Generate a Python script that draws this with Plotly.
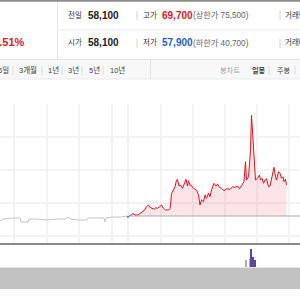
import plotly.graph_objects as go

# ---------------- data ----------------
prev_close = 58100
high_price = 69700
low_price = 57900
upper_limit = 75500
lower_limit = 40700
open_price = 58100
change_pct = "16.51%"

# previous-period (gray) line
gray_t = [0, 3, 13, 20, 21, 28, 29, 37, 47, 57, 65, 68, 71, 77, 87, 88, 100, 104, 105, 106, 112, 120, 127]
gray_p = [57520, 57750, 57870, 57870, 57410, 57410, 57750, 57750, 57640, 57750, 57750, 57980, 57750,
          57640, 57640, 57870, 57870, 57870, 57410, 57870, 57980, 57980, 58100]

# short blue dip below previous close
blue_t = [127, 128, 129]
blue_p = [58100, 57900, 58100]

# main (red) price line
red_t = [129, 131.5, 133, 135, 138, 141.5, 144, 146.5, 148.5, 150, 151.5, 154, 156, 157.5, 159.5,
         161.5, 163.5, 165.5, 168.5, 170, 171, 171.5, 173.5, 175, 176.5, 177.5, 179, 180.5, 182.5,
         184.5, 186, 187.5, 188.5, 190, 191.5, 193.5, 196.5, 198.5, 200, 201.5, 203.5, 205, 206.5,
         208.5, 210, 211.5, 214, 216, 217.5, 219.5, 221.5, 224, 226.5, 230, 232.5, 235, 237.5,
         239.5, 241.5, 244, 245.5, 246.5, 248.5, 249.5, 250.5, 251.5, 252.5, 253.5, 254.5, 255.5,
         257.5, 259.5, 260.5, 262, 263.5, 265, 266.5, 268.5, 270, 271.5, 274, 275.5, 276.5, 278.5,
         280, 281.5, 283, 284, 285.5, 286.5]
red_p = [58100, 58220, 58410, 58220, 58220, 58490, 58710, 59170, 59370, 59100, 58980, 58870, 59060,
         58980, 59170, 59370, 58980, 58790, 58790, 58980, 59940, 60710, 61090, 61470, 62240, 62320,
         61550, 61670, 61290, 61860, 62320, 61550, 62160, 61670, 61600, 61290, 61090, 60520, 59370,
         59940, 59750, 60520, 60140, 60710, 60320, 61090, 61860, 61550, 61780, 61400, 61290, 61010,
         61240, 61170, 61470, 61400, 61550, 61240, 61550, 62050, 64350, 62240, 62620, 64540, 65690,
         69700, 67610, 66650, 63390, 62240, 62440, 62820, 62240, 62440, 61860, 62240, 62390, 61470,
         61550, 62240, 63700, 62620, 62240, 63200, 63010, 62440, 62620, 62050, 62320, 61670]
assert len(red_t) == len(red_p)

# volume spike
vol_t = [246, 250, 251.3, 253, 255]
vol_v = [40, 45, 100, 55, 40]
vol_dark = [False, False, True, True, True]

# grid
grid_t = [14, 47, 79, 112, 128, 161, 193, 225, 257, 289]
grid_p = [70980, 67170, 63370, 59560, 55750]

# header labels
row_labels = [("전일", "시가"), ("고가", "저가")]
tab_labels = ["3개월", "1년", "3년", "5년", "10년"]
right_tabs = ["봉차트", "일봉", "주봉"]

FONT = "Liberation Sans, Noto Sans CJK KR, sans-serif"
W = H = 300


def py(px):
    return 1 - px / H


def px_x(px):
    return px / W


fig = go.Figure()

# price traces
fig.add_trace(go.Scatter(x=gray_t, y=gray_p, mode="lines",
                         line=dict(color="#c6c6c6", width=1), hoverinfo="skip"))
fig.add_trace(go.Scatter(x=red_t, y=[prev_close] * len(red_t), mode="lines",
                         line=dict(color="rgba(0,0,0,0)", width=0), hoverinfo="skip"))
fig.add_trace(go.Scatter(x=red_t, y=red_p, mode="lines", fill="tonexty",
                         fillcolor="rgba(240,50,65,0.13)",
                         line=dict(color="#e3121e", width=1), hoverinfo="skip"))
fig.add_trace(go.Scatter(x=blue_t, y=blue_p, mode="lines",
                         line=dict(color="#2a6fd6", width=1), hoverinfo="skip"))

# volume
fig.add_trace(go.Bar(x=vol_t, y=vol_v, width=1.3, xaxis="x2", yaxis="y2",
                     marker=dict(color=["#5d43a3" if d else "#b4a6dc" for d in vol_dark],
                                 line=dict(width=0)),
                     hoverinfo="skip"))

shapes = []


def hline(y, x0, x1, color, width=1):
    shapes.append(dict(type="line", xref="paper", yref="paper", x0=px_x(x0), x1=px_x(x1),
                       y0=py(y), y1=py(y), line=dict(color=color, width=width)))


def vline(x, y0, y1, color, width=1):
    shapes.append(dict(type="line", xref="paper", yref="paper", x0=px_x(x), x1=px_x(x),
                       y0=py(y0), y1=py(y1), line=dict(color=color, width=width)))


# header frame
hline(0.8, 0, 300, "#8c8c8c", 2)
vline(57.5, 2, 59, "#e6e6e6")
hline(30, 57, 300, "#ececec")
# tab bar
shapes.append(dict(type="rect", xref="paper", yref="paper", x0=0, x1=1, y0=py(79), y1=py(59.5),
                   fillcolor="#f8f8f8", line=dict(width=0), layer="below"))
hline(59.5, 0, 300, "#e2e2e2")
hline(79, 0, 300, "#ebebeb")
vline(150.5, 59.5, 79, "#e2e2e2")
# separators
for x in (137, 280):
    vline(x, 11, 20, "#d4d4d4")
    vline(x, 39, 48, "#d4d4d4")
for x in (13, 42, 62, 82, 103):
    vline(x, 66, 75, "#dcdcdc")
for x in (269, 295):
    vline(x, 66, 75, "#dcdcdc")
# scroll band
shapes.append(dict(type="rect", xref="paper", yref="paper", x0=0, x1=1, y0=py(289), y1=py(268),
                   fillcolor="#c2c2c2", line=dict(width=0), layer="below"))
hline(267.5, 0, 300, "#e4e4e4")
# previous close line
shapes.append(dict(type="line", xref="x", yref="y", x0=red_t[0], x1=300, y0=prev_close, y1=prev_close,
                   line=dict(color="#a9a9a9", width=1)))

ann = []


def txt(s, x, y, size, color, bold=False, anchor="left"):
    ann.append(dict(text=f"<b>{s}</b>" if bold else s, x=px_x(x), y=py(y), xref="paper",
                    yref="paper", xanchor=anchor, yanchor="middle", showarrow=False,
                    font=dict(size=size, color=color, family=FONT), borderpad=0))


RED = "#e5141f"
BLUE = "#1e5fc8"
txt(change_pct, 26, 42, 11, RED, True, "right")
for row, y in enumerate((15, 43)):
    txt(row_labels[0][row], 67, y, 7.5, "#333333")
    txt(f"{open_price if row else prev_close:,}", 87, y, 10, "#222222", True)
    txt(row_labels[1][row], 142, y, 7.5, "#333333")
    if row == 0:
        txt(f"{high_price:,}", 161, y, 10, RED, True)
        txt(f"(상한가 {upper_limit:,})", 192, y, 8.2, "#666666")
        txt("거래량", 284, y, 7.5, "#333333")
    else:
        txt(f"{low_price:,}", 161, y, 10, BLUE, True)
        txt(f"(하한가 {lower_limit:,})", 192, y, 8.2, "#666666")
        txt("거래대금", 284, y, 7.5, "#333333")

txt("6일", 10, 70, 7.5, "#444444", False, "right")
for label, x in zip(tab_labels, (18, 47, 67, 88, 109)):
    txt(label, x, 70, 7.5, "#444444")
txt(right_tabs[0], 219, 70, 7.2, "#a5a5a5")
txt(right_tabs[1], 251, 70, 7.2, "#333333", True)
txt(right_tabs[2], 276, 70, 7.2, "#444444")

fig.update_layout(
    width=W, height=H, margin=dict(l=0, r=0, t=0, b=0),
    paper_bgcolor="white", plot_bgcolor="white", showlegend=False,
    shapes=shapes, annotations=ann,
    xaxis=dict(range=[0, 300], domain=[0, 1], tickvals=grid_t, showticklabels=False,
               showgrid=True, gridcolor="#f3f3f3", gridwidth=1.5, zeroline=False,
               showline=True, linecolor="#8a8a8a", linewidth=2, ticks="", fixedrange=True),
    yaxis=dict(range=[54990, 71000], domain=[py(243), py(104)], tickvals=grid_p,
               showticklabels=False, showgrid=True, gridcolor="#f3f3f3", gridwidth=1.5,
               zeroline=False, showline=False, ticks=""),
    xaxis2=dict(range=[0, 300], domain=[0, 1], anchor="y2", visible=False),
    yaxis2=dict(range=[0, 120], domain=[py(268), py(245)], visible=False),
    bargap=0,
)

fig.write_html("out.html")
